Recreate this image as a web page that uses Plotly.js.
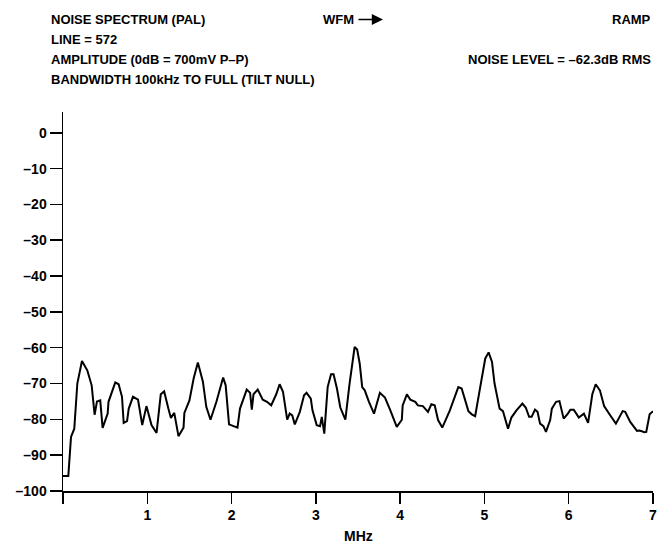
<!DOCTYPE html>
<html>
<head>
<meta charset="utf-8">
<script src="https://cdn.plot.ly/plotly-3.0.1.min.js"></script>
<style>html,body{margin:0;padding:0;background:#fff;}#chart{width:660px;height:544px;}</style>
</head>
<body>
<div id="chart"></div>
<script>
// Frequency (MHz)
const freqMHz = [0, 0.063, 0.095, 0.134, 0.17, 0.225, 0.288, 0.34, 0.375, 0.403, 0.442, 0.47, 0.53, 0.54, 0.62, 0.66, 0.70, 0.72, 0.76, 0.78, 0.83, 0.89, 0.94, 0.99, 1.05, 1.11, 1.16, 1.20, 1.25, 1.28, 1.32, 1.37, 1.43, 1.44, 1.50, 1.55, 1.60, 1.66, 1.70, 1.75, 1.82, 1.90, 1.93, 1.97, 2.07, 2.10, 2.18, 2.22, 2.24, 2.26, 2.31, 2.37, 2.42, 2.47, 2.53, 2.57, 2.61, 2.66, 2.69, 2.72, 2.75, 2.81, 2.86, 2.89, 2.94, 2.96, 3.01, 3.05, 3.07, 3.10, 3.14, 3.18, 3.21, 3.25, 3.29, 3.35, 3.40, 3.46, 3.49, 3.52, 3.55, 3.58, 3.63, 3.69, 3.76, 3.82, 3.88, 3.96, 4.02, 4.03, 4.08, 4.12, 4.18, 4.21, 4.27, 4.33, 4.37, 4.41, 4.45, 4.50, 4.59, 4.65, 4.69, 4.73, 4.77, 4.81, 4.85, 4.89, 4.95, 5.01, 5.05, 5.09, 5.12, 5.18, 5.22, 5.28, 5.32, 5.38, 5.45, 5.49, 5.53, 5.56, 5.60, 5.63, 5.66, 5.70, 5.73, 5.78, 5.80, 5.85, 5.89, 5.94, 5.99, 6.02, 6.06, 6.12, 6.18, 6.23, 6.28, 6.32, 6.37, 6.42, 6.49, 6.56, 6.64, 6.67, 6.73, 6.81, 6.84, 6.90, 6.92, 6.96, 7.00];
// Noise level (dB)
const noiseDB = [-95.8, -95.8, -84.9, -82.6, -70, -63.7, -66.3, -70.5, -78.7, -75, -74.7, -82.4, -78.4, -75.1, -69.7, -70.2, -73.7, -81, -80.5, -77, -73.7, -74.5, -81.6, -76.3, -81.6, -83.8, -73, -72.2, -77, -79.6, -78.2, -84.7, -82.3, -78.2, -74.7, -68.6, -64.1, -69.5, -76.5, -80.1, -75.1, -68.3, -70.5, -81.4, -82.3, -77, -71.7, -72.6, -77.3, -73, -71.7, -74.5, -75.1, -76.1, -73, -70.2, -72.3, -80.1, -78.4, -78.9, -81.4, -77.9, -73.3, -72.6, -74.2, -77.5, -81.6, -81.9, -79.3, -84, -71, -67.4, -67.4, -71.4, -76.7, -80.1, -70, -59.8, -60.5, -64.4, -71, -71.9, -75.1, -78.4, -72.6, -73.9, -77.3, -82.1, -80.1, -76.1, -73, -74.5, -75.1, -76.1, -76.3, -77.9, -75.8, -76.1, -80.2, -82.3, -77.5, -73.7, -71, -71.4, -74.7, -77.7, -78.6, -79.1, -71, -63, -61.3, -64, -70, -77, -77.7, -82.6, -79.5, -77.5, -75.6, -76.7, -79.3, -79.3, -77.3, -77.9, -81.2, -81.9, -83.5, -80.2, -77, -75.1, -74.9, -79.8, -78.4, -77.3, -77.3, -79.5, -78.4, -81, -73, -70.2, -71.9, -76.3, -78.8, -81.2, -77.7, -77.9, -80.7, -83.2, -83.1, -83.6, -83.5, -78.6, -77.7];

const xTickVals = [0, 1, 2, 3, 4, 5, 6, 7];
const xTickText = ['', '1', '2', '3', '4', '5', '6', '7'];
const yTickVals = [0, -10, -20, -30, -40, -50, -60, -70, -80, -90, -100];
const yTickText = ['0', '–10', '–20', '–30', '–40', '–50', '–60', '–70', '–80', '–90', '–100'];

const headerLines = ['NOISE SPECTRUM (PAL)', 'LINE = 572', 'AMPLITUDE (0dB = 700mV P–P)', 'BANDWIDTH 100kHz TO FULL (TILT NULL)'];

const FONT = 'Liberation Sans, Arial, Helvetica, sans-serif';
const W = 660, H = 544;
const M = {l: 63, r: 7, t: 112, b: 53};
const pw = W - M.l - M.r, ph = H - M.t - M.b;
const px = x => (x - M.l) / pw;
const py = y => (H - M.b - y) / ph;

const txtFont = {family: FONT, size: 13, color: '#000', weight: 'bold'};
const annotations = [];
headerLines.forEach((t, i) => {
  annotations.push({xref: 'paper', yref: 'paper', x: px(49), y: py(19.5 + 20 * i), xanchor: 'left', yanchor: 'middle', text: t, showarrow: false, font: txtFont});
});
annotations.push({xref: 'paper', yref: 'paper', x: px(321), y: py(19.5), xanchor: 'left', yanchor: 'middle', text: 'WFM', showarrow: false, font: txtFont});
annotations.push({xref: 'paper', yref: 'paper', x: px(383), y: py(19.5), text: '', showarrow: true, arrowhead: 2, arrowsize: 1.4, arrowwidth: 1.6, arrowcolor: '#000', axref: 'pixel', ayref: 'pixel', ax: -26, ay: 0, standoff: 0});
annotations.push({xref: 'paper', yref: 'paper', x: px(653), y: py(19.5), xanchor: 'right', yanchor: 'middle', text: 'RAMP', showarrow: false, font: txtFont});
annotations.push({xref: 'paper', yref: 'paper', x: px(653), y: py(59.5), xanchor: 'right', yanchor: 'middle', text: 'NOISE LEVEL = –62.3dB RMS', showarrow: false, font: txtFont});
annotations.push({xref: 'paper', yref: 'paper', x: px(358), y: py(536), xanchor: 'center', yanchor: 'middle', text: 'MHz', showarrow: false, font: {family: FONT, size: 14, color: '#000', weight: 'bold'}});

const tickFont = {family: FONT, size: 14, color: '#000', weight: 'bold'};

Plotly.newPlot('chart', [{
  x: freqMHz, y: noiseDB, type: 'scatter', mode: 'lines',
  line: {color: '#000', width: 2}, hoverinfo: 'skip'
}], {
  width: W, height: H, margin: M,
  paper_bgcolor: '#fff', plot_bgcolor: '#fff', showlegend: false,
  xaxis: {range: [0, 7], tickvals: xTickVals, ticktext: xTickText, ticks: 'outside', ticklen: 11, tickwidth: 1.5, tickcolor: '#000',
          showline: true, linewidth: 1.5, linecolor: '#000', showgrid: false, zeroline: false, tickfont: tickFont, fixedrange: true, automargin: false},
  yaxis: {range: [-100, 5.8], tickvals: yTickVals, ticktext: yTickText, ticks: 'outside', ticklen: 12, tickwidth: 1.5, tickcolor: '#000',
          showline: true, linewidth: 1.5, linecolor: '#000', showgrid: false, zeroline: false, tickfont: tickFont, fixedrange: true, automargin: false},
  annotations: annotations
}, {staticPlot: true, displayModeBar: false});
</script>
</body>
</html>
